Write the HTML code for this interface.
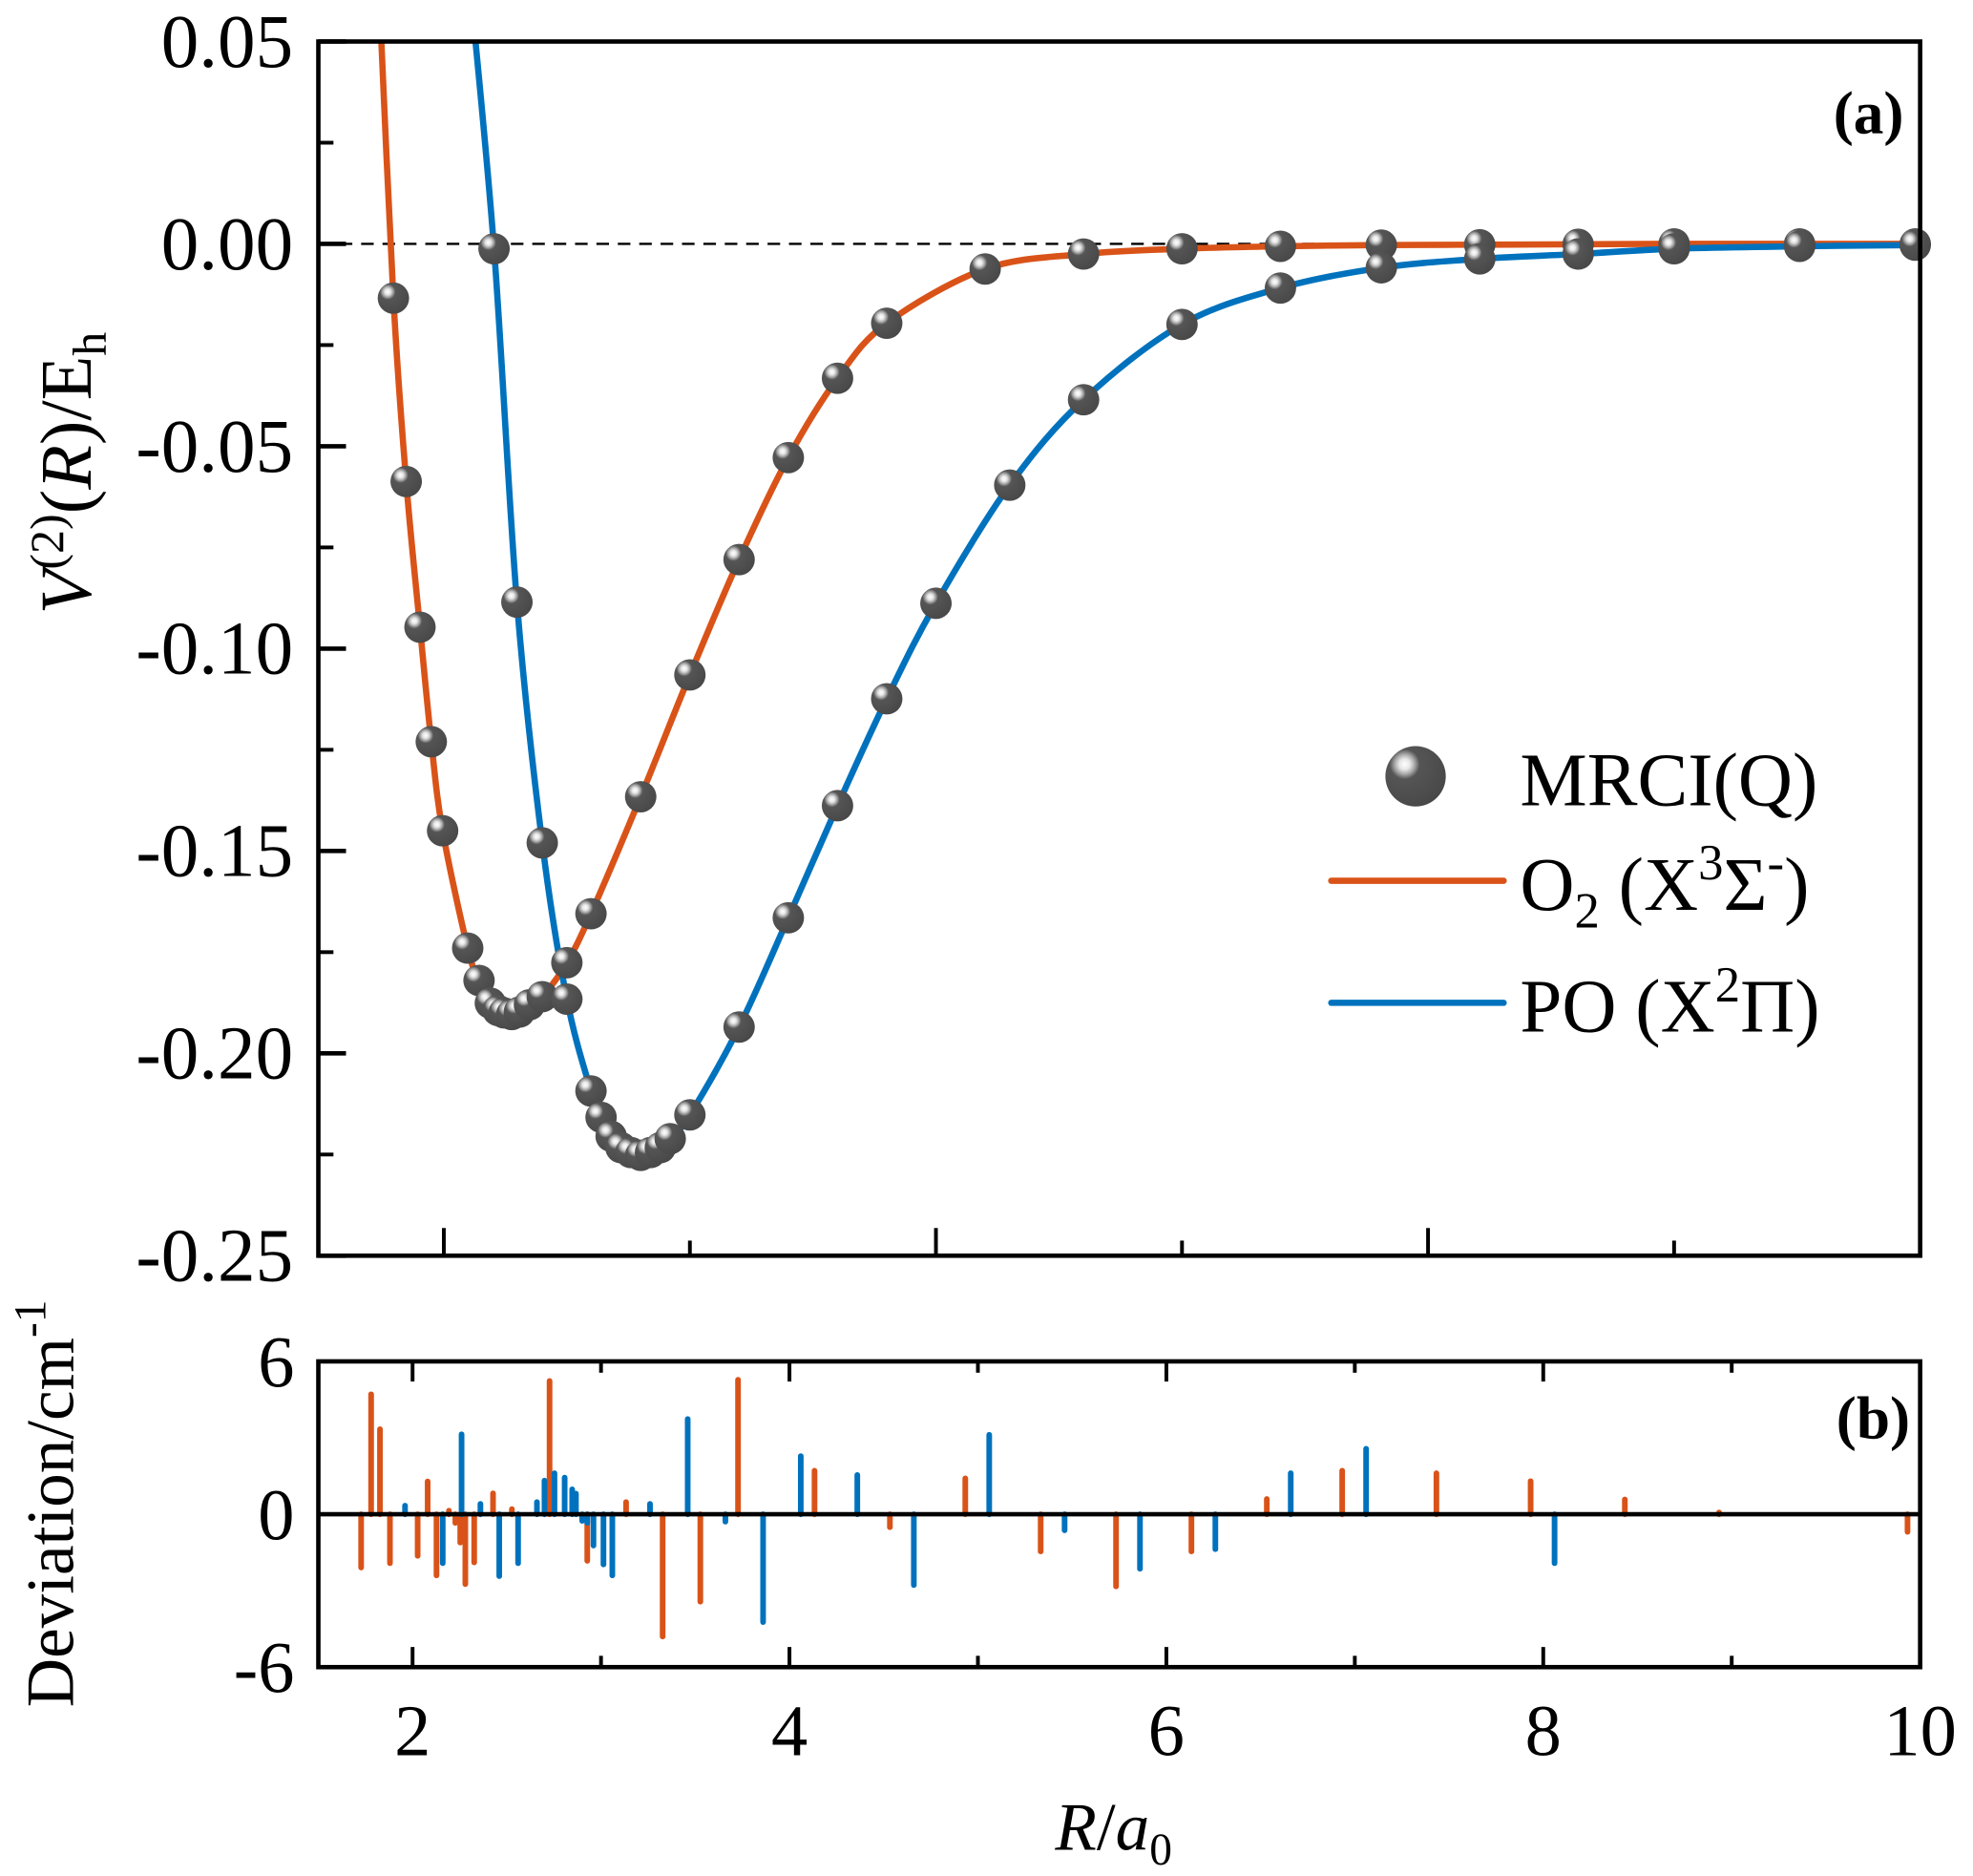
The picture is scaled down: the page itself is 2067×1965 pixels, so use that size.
<!DOCTYPE html>
<html><head><meta charset="utf-8"><style>
html,body{margin:0;padding:0;background:#fff;}
svg{display:block;font-family:"Liberation Serif",serif;}
</style></head><body>
<svg id="chartSvg" width="2067" height="1965" viewBox="0 0 1568 1491" preserveAspectRatio="none" xmlns="http://www.w3.org/2000/svg">
<defs>
<radialGradient id="ball" cx="0.32" cy="0.3" r="0.75">
<stop offset="0" stop-color="#ffffff"/><stop offset="0.12" stop-color="#e6e6e6"/><stop offset="0.22" stop-color="#a8a8a8"/><stop offset="0.33" stop-color="#555"/><stop offset="1" stop-color="#484848"/>
</radialGradient>
<clipPath id="clipTop"><rect x="253" y="33" width="1273" height="965"/></clipPath>
</defs>
<g id="topPanel"></g>
<g id="botPanel"></g>
<g id="legend">
<circle cx="1125" cy="617" r="24" fill="url(#ball)"/>
<text x="1208" y="640" font-size="60">MRCI(Q)</text>
<line x1="1058" y1="700" x2="1195" y2="700" stroke="#d95319" stroke-width="5" stroke-linecap="round"/>
<text x="1208" y="723" font-size="60">O<tspan font-size="40" dy="14">2</tspan><tspan dy="-14"> (X</tspan><tspan font-size="40" dy="-24">3</tspan><tspan dy="24">Σ</tspan><tspan font-size="40" dy="-24">-</tspan><tspan dy="24">)</tspan></text>
<line x1="1058" y1="797" x2="1195" y2="797" stroke="#0072bd" stroke-width="5" stroke-linecap="round"/>
<text x="1208" y="820" font-size="60">PO (X<tspan font-size="40" dy="-24">2</tspan><tspan dy="24">Π)</tspan></text>
</g>
<text x="1513" y="106" font-size="48" font-weight="bold" text-anchor="end">(a)</text>
<text x="1518" y="1143" font-size="48" font-weight="bold" text-anchor="end">(b)</text>
<text transform="translate(72,376) rotate(-90)" font-size="58" text-anchor="middle"><tspan font-style="italic">V</tspan><tspan font-size="38" dy="-22">(2)</tspan><tspan dy="22">(</tspan><tspan font-style="italic">R</tspan>)/E<tspan font-size="38" dy="12">h</tspan></text>
<text transform="translate(58,1195) rotate(-90)" font-size="54" text-anchor="middle">Deviation/cm<tspan font-size="36" dy="-22">-1</tspan></text>
<text x="885" y="1470" font-size="54" text-anchor="middle"><tspan font-style="italic">R</tspan>/<tspan font-style="italic">a</tspan><tspan font-size="36" dy="12">0</tspan></text>
</svg>
<script>
// ---- Data (top panel) ----
const o2R = [1.795,1.847,1.903,1.949,1.995,2.097,2.143,2.189,2.22,2.245,2.276,2.307,2.348,2.40,2.50,2.598,2.80,3.00,3.20,3.40,3.60,3.80,4.20,4.60,5.0,5.40,5.81,6.21,6.61,7.0,7.51,7.98];
const o2V = [-0.0134,-0.0587,-0.0947,-0.123,-0.145,-0.174,-0.182,-0.1876,-0.1894,-0.190,-0.1904,-0.1898,-0.188,-0.186,-0.1776,-0.1655,-0.1366,-0.1065,-0.078,-0.0528,-0.0332,-0.0196,-0.0062,-0.0025,-0.0012,-0.0006,-0.0003,-0.0002,-0.0001,0,0,0];
const poR = [2.204,2.297,2.40,2.50,2.598,2.639,2.68,2.72,2.76,2.80,2.84,2.88,2.92,3.00,3.20,3.40,3.60,3.80,4.00,4.30,4.60,5.0,5.40,5.81,6.21,6.61,7.0,7.51,7.98];
const poV = [-0.0012,-0.0885,-0.148,-0.1866,-0.2093,-0.2158,-0.2205,-0.2233,-0.2245,-0.2252,-0.2245,-0.2233,-0.2211,-0.2152,-0.1935,-0.1665,-0.1388,-0.1124,-0.0888,-0.0596,-0.0385,-0.0199,-0.0109,-0.0059,-0.0037,-0.0025,-0.0012,-0.0006,-0.0003];
const o2CurveStartR = 1.735, o2CurveStartV = 0.065;
const poCurveStartR = 2.105, poCurveStartV = 0.065;
const topYTicks = ["0.05","0.00","-0.05","-0.10","-0.15","-0.20","-0.25"];
// ---- Data (bottom panel) ----
const o2DevR = [1.727,1.78,1.827,1.88,2.027,2.08,2.127,2.193,2.227,2.253,2.28,2.327,2.427,2.527,2.727,2.927,3.133,3.327,3.527,3.727,4.133,4.533,4.933,5.333,5.733,6.133,6.533,6.933,7.433,7.933,8.433,8.933,9.933];
const o2Dev = [-2.09,4.71,3.34,-1.92,-1.63,1.29,-2.4,0.14,-0.34,-1.11,-2.74,-1.89,0.82,0.2,5.23,-1.83,0.48,-4.8,-3.43,5.28,1.71,-0.51,1.41,-1.46,-2.83,-1.46,0.6,1.71,1.61,1.30,0.58,0.07,-0.69];
const poDevR = [1.96,2.16,2.26,2.36,2.46,2.56,2.66,2.70,2.753,2.807,2.847,2.867,2.90,2.927,2.96,3.013,3.06,3.26,3.46,3.66,3.86,4.06,4.36,4.66,5.06,5.46,5.86,6.26,6.66,7.06,8.06];
const poDev = [0.34,-1.92,3.14,0.41,-2.43,-1.92,0.48,1.32,1.61,1.44,0.98,0.81,-0.26,-0.34,-1.23,-1.97,-2.4,0.41,3.74,-0.29,-4.23,2.28,1.54,-2.78,3.12,-0.63,-2.14,-1.37,1.61,2.57,-1.92];
const botXTicks = ["2","4","6","8","10"];
const botYTicks = ["6","0","-6"];

const NS="http://www.w3.org/2000/svg";
function mk(tag, attrs, parent){const e=document.createElementNS(NS,tag);for(const k in attrs)e.setAttribute(k,attrs[k]);parent.appendChild(e);return e;}
const T={l:253,r:1526,t:33,b:998,x0:1.49,x1:8.0,y0:-0.25,y1:0.05};
const tx=R=>T.l+(R-T.x0)/(T.x1-T.x0)*(T.r-T.l);
const ty=V=>T.b-(V-T.y0)/(T.y1-T.y0)*(T.b-T.t);
const B={l:253,r:1526,t:1082,b:1325,x0:1.5,x1:10,y0:-6,y1:6};
const bx=R=>B.l+(R-B.x0)/(B.x1-B.x0)*(B.r-B.l);
const by=V=>B.b-(V-B.y0)/(B.y1-B.y0)*(B.b-B.t);
const gTop=document.getElementById('topPanel'), gBot=document.getElementById('botPanel');

let d0=mk('line',{x1:T.l,y1:ty(0),x2:T.r,y2:ty(0),stroke:'#000','stroke-width':1.8,'stroke-dasharray':'10 7'},gTop);


function curvePath(xs,ys){
  const p=xs.map((x,i)=>[tx(x),ty(ys[i])]);
  let s=`M${p[0][0]},${p[0][1]}`;
  for(let i=0;i<p.length-1;i++){
    const a=p[Math.max(i-1,0)],b=p[i],c=p[i+1],e=p[Math.min(i+2,p.length-1)];
    const c1=[b[0]+(c[0]-a[0])/6,b[1]+(c[1]-a[1])/6],c2=[c[0]-(e[0]-b[0])/6,c[1]-(e[1]-b[1])/6];
    s+=` C${c1[0]},${c1[1]} ${c2[0]},${c2[1]} ${c[0]},${c[1]}`;
  }
  return s;
}
const cg=mk('g',{'clip-path':'url(#clipTop)'},gTop);
let c1=mk('path',{d:curvePath([o2CurveStartR,...o2R],[o2CurveStartV,...o2V]),fill:'none',stroke:'#d95319','stroke-width':5},cg);


let c2=mk('path',{d:curvePath([poCurveStartR,...poR],[poCurveStartV,...poV]),fill:'none',stroke:'#0072bd','stroke-width':5},cg);


o2R.forEach((R,i)=>{const c=mk('circle',{cx:tx(R),cy:ty(o2V[i]),r:12.5,fill:'url(#ball)'},gTop);

});
poR.forEach((R,i)=>{const c=mk('circle',{cx:tx(R),cy:ty(poV[i]),r:12.5,fill:'url(#ball)'},gTop);

});
let f1=mk('rect',{x:T.l,y:T.t,width:T.r-T.l,height:T.b-T.t,fill:'none',stroke:'#000','stroke-width':3.5},gTop);


topYTicks.forEach((lab,i)=>{const v=0.05-0.05*i;const y=ty(v);
  mk('line',{x1:T.l,y1:y,x2:T.l+22,y2:y,stroke:'#000','stroke-width':3.5},gTop);
  if(i<topYTicks.length-1)mk('line',{x1:T.l,y1:ty(v-0.025),x2:T.l+12,y2:ty(v-0.025),stroke:'#000','stroke-width':3},gTop);
  const t=mk('text',{x:233,y:y+20,'font-size':60,'text-anchor':'end'},gTop);t.textContent=lab;
  
  
});
[2,3,4,5,6,7].forEach(R=>{const big=R%2===0;mk('line',{x1:tx(R),y1:T.b,x2:tx(R),y2:T.b-(big?22:12),stroke:'#000','stroke-width':3},gTop);});

o2Dev.forEach((v,i)=>{const l=mk('line',{x1:bx(o2DevR[i]),x2:bx(o2DevR[i]),y1:by(0),y2:by(v),stroke:'#d95319','stroke-width':4.5,'stroke-linecap':'round'},gBot);

});
poDev.forEach((v,i)=>{const l=mk('line',{x1:bx(poDevR[i]),x2:bx(poDevR[i]),y1:by(0),y2:by(v),stroke:'#0072bd','stroke-width':4.5,'stroke-linecap':'round'},gBot);

});
let zl=mk('line',{x1:B.l,x2:B.r,y1:by(0),y2:by(0),stroke:'#000','stroke-width':3.5},gBot);


let f2=mk('rect',{x:B.l,y:B.t,width:B.r-B.l,height:B.b-B.t,fill:'none',stroke:'#000','stroke-width':3.5},gBot);


botXTicks.forEach(lab=>{const R=+lab;const x=bx(R);
  mk('line',{x1:x,y1:B.b,x2:x,y2:B.b-16,stroke:'#000','stroke-width':3},gBot);
  mk('line',{x1:x,y1:B.t,x2:x,y2:B.t+16,stroke:'#000','stroke-width':3},gBot);
  if(R<10){mk('line',{x1:bx(R+1),y1:B.b,x2:bx(R+1),y2:B.b-9,stroke:'#000','stroke-width':3},gBot);
  mk('line',{x1:bx(R+1),y1:B.t,x2:bx(R+1),y2:B.t+9,stroke:'#000','stroke-width':3},gBot);}
  const t=mk('text',{x:x,y:1395,'font-size':58,'text-anchor':'middle'},gBot);t.textContent=lab;
  
  
});
botYTicks.forEach(lab=>{const y=by(+lab);
  const t=mk('text',{x:234,y:y+20,'font-size':58,'text-anchor':'end'},gBot);t.textContent=lab;
  
  
});
</script>
</body></html>
